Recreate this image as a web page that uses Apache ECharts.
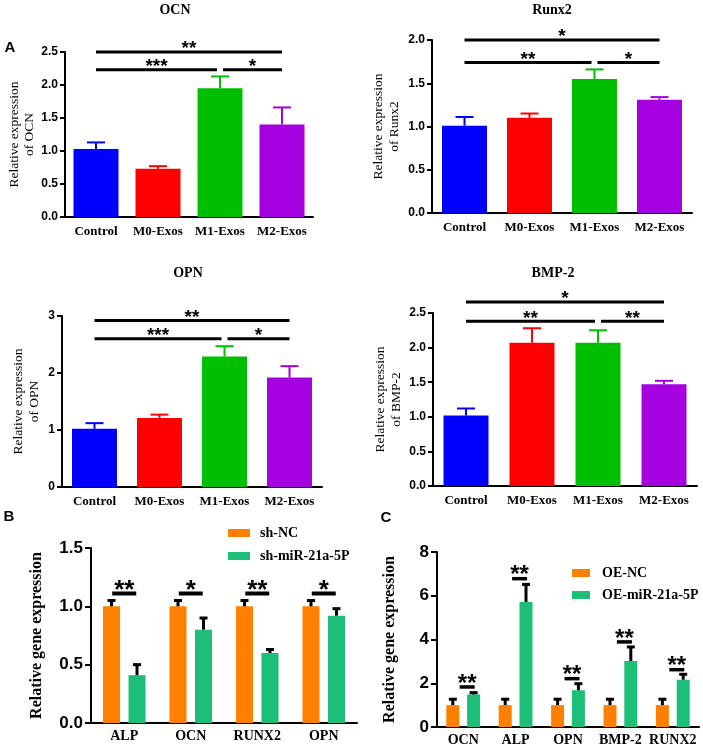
<!DOCTYPE html>
<html>
<head>
<meta charset="utf-8">
<script src="https://cdn.jsdelivr.net/npm/echarts@6/dist/echarts.min.js"></script>
<style>
  html, body { margin: 0; padding: 0; background: #fff; }
  #chart { width: 703px; height: 750px; }
</style>
</head>
<body>
<div id="chart"></div>
<script>
  // panel A: macrophage exosome groups
  var groups = ['Control', 'M0-Exos', 'M1-Exos', 'M2-Exos']
  var groupColors = ['#0000ff', '#ff0000', '#00bf00', '#a400e0']

  var ocnMean = [1.03, 0.73, 1.95, 1.40]
  var ocnErr = [0.10, 0.04, 0.18, 0.26]
  var ocnSig = [[0, 3, 2.5, '**'], [0, 2, 2.23, '***'], [2, 3, 2.23, '*']]

  var runx2Mean = [1.01, 1.10, 1.55, 1.31]
  var runx2Err = [0.10, 0.05, 0.11, 0.03]
  var runx2Sig = [[0, 3, 2.0, '*'], [0, 2, 1.74, '**'], [2, 3, 1.74, '*']]

  var opnMean = [1.02, 1.21, 2.29, 1.92]
  var opnErr = [0.10, 0.06, 0.18, 0.20]
  var opnSig = [[0, 3, 2.92, '**'], [0, 2, 2.60, '***'], [2, 3, 2.60, '*']]

  var bmp2Mean = [1.02, 2.07, 2.07, 1.47]
  var bmp2Err = [0.10, 0.21, 0.18, 0.05]
  var bmp2Sig = [[0, 3, 2.66, '*'], [0, 2, 2.38, '**'], [2, 3, 2.38, '**']]

  // panel B: knockdown
  var shGenes = ['ALP', 'OCN', 'RUNX2', 'OPN']
  var shNC = [1.0, 1.0, 1.0, 1.0]
  var shNCErr = [0.05, 0.05, 0.05, 0.05]
  var shMiR = [0.41, 0.80, 0.60, 0.92]
  var shMiRErr = [0.09, 0.10, 0.03, 0.06]
  var shSig = [[0, 1.11, '**'], [1, 1.11, '*'], [2, 1.11, '**'], [3, 1.11, '*']]

  // panel C: overexpression
  var oeGenes = ['OCN', 'ALP', 'OPN', 'BMP-2', 'RUNX2']
  var oeNC = [1.0, 1.0, 1.0, 1.0, 1.0]
  var oeNCErr = [0.27, 0.27, 0.27, 0.27, 0.27]
  var oeMiR = [1.49, 5.72, 1.68, 3.02, 2.16]
  var oeMiRErr = [0.08, 0.80, 0.30, 0.64, 0.25]
  var oeSig = [[0, 1.83, '**'], [1, 6.78, '**'], [2, 2.21, '**'], [3, 3.89, '**'], [4, 2.62, '**']]

  var serif = 'Liberation Serif'
  var sans = 'Liberation Sans'
  var ORANGE = '#ff8000'
  var TEAL = '#1dbf78'

  function xAx(gi, cats, fontSize, margin) {
    return {
      type: 'category', gridIndex: gi, data: cats,
      axisLine: { lineStyle: { color: '#000', width: 2 } },
      axisTick: { alignWithLabel: true, length: 5, lineStyle: { color: '#000', width: 2 } },
      axisLabel: { interval: 0, margin: margin, color: '#000', fontFamily: serif, fontWeight: 'bold', fontSize: fontSize }
    }
  }

  function yAx(gi, max, step, dec, name, gap, o) {
    return {
      type: 'value', gridIndex: gi, min: 0, max: max, interval: step,
      name: name, nameLocation: 'middle', nameRotate: 90, nameGap: gap,
      nameTextStyle: { color: '#000', fontFamily: serif, fontSize: o.nameSize, fontWeight: o.nameWeight, lineHeight: o.nameSize + 2 },
      axisLine: { show: true, lineStyle: { color: '#000', width: 2 } },
      axisTick: { show: true, length: o.tick, lineStyle: { color: '#000', width: 2 } },
      axisLabel: {
        margin: o.tick + 2, color: '#000', fontFamily: sans, fontWeight: 'bold', fontSize: o.labelSize,
        formatter: function (v) { return v.toFixed(dec) }
      },
      splitLine: { show: false }
    }
  }

  function errSeries(gi, means, errs, color, offset, capW, lw) {
    return {
      type: 'custom', xAxisIndex: gi, yAxisIndex: gi, z: 3, silent: true,
      data: means.map(function (m, i) { return [i, m, m + errs[i]] }),
      renderItem: function (params, api) {
        var base = api.coord([api.value(0), api.value(1)])
        var top = api.coord([api.value(0), api.value(2)])
        var x = base[0] + offset
        var c = Array.isArray(color) ? color[params.dataIndex] : color
        return {
          type: 'group', children: [
            { type: 'line', shape: { x1: x, y1: base[1], x2: x, y2: top[1] }, style: { stroke: c, lineWidth: lw } },
            { type: 'line', shape: { x1: x - capW / 2, y1: top[1], x2: x + capW / 2, y2: top[1] }, style: { stroke: c, lineWidth: lw } }
          ]
        }
      }
    }
  }

  // brackets spanning groups (panel A)
  function bracketSeries(gi, sig) {
    var last = groups.length - 1
    return {
      type: 'custom', xAxisIndex: gi, yAxisIndex: gi, z: 4, silent: true, clip: false,
      data: sig.map(function (s) { return [s[0], s[1], s[2]] }),
      renderItem: function (params, api) {
        var s = sig[params.dataIndex]
        var a = api.coord([s[0], s[2]])
        var b = api.coord([s[1], s[2]])
        var x1 = a[0] + (s[0] > 0 && s[0] < last ? 3 : 0)
        var x2 = b[0] - (s[1] > 0 && s[1] < last ? 3 : 0)
        return {
          type: 'group', children: [
            { type: 'line', shape: { x1: x1, y1: a[1], x2: x2, y2: a[1] }, style: { stroke: '#000', lineWidth: 3 } },
            { type: 'text', x: (x1 + x2) / 2, y: a[1] - 3, style: { text: s[3], fill: '#000', font: 'bold 19px ' + sans, align: 'center', verticalAlign: 'middle' } }
          ]
        }
      }
    }
  }

  // short bars over one gene (panels B, C)
  function starSeries(gi, sig, halfW, shift, fontSize, lw) {
    return {
      type: 'custom', xAxisIndex: gi, yAxisIndex: gi, z: 4, silent: true, clip: false,
      data: sig.map(function (s) { return [s[0], s[1]] }),
      renderItem: function (params, api) {
        var s = sig[params.dataIndex]
        var p = api.coord([s[0], s[1]])
        var cx = p[0] + shift
        return {
          type: 'group', children: [
            { type: 'line', shape: { x1: cx - halfW, y1: p[1], x2: cx + halfW, y2: p[1] }, style: { stroke: '#000', lineWidth: lw } },
            { type: 'text', x: cx, y: p[1] - 3, style: { text: s[2], fill: '#000', font: 'bold ' + fontSize + 'px ' + sans, align: 'center', verticalAlign: 'middle' } }
          ]
        }
      }
    }
  }

  function groupBars(gi, means) {
    return {
      type: 'bar', xAxisIndex: gi, yAxisIndex: gi, barWidth: 45, z: 2,
      data: means.map(function (v, i) { return { value: v, itemStyle: { color: groupColors[i] } } })
    }
  }

  var aY = { nameSize: 13.5, nameWeight: 'normal', labelSize: 12, tick: 5 }
  var bY = { nameSize: 16, nameWeight: 'bold', labelSize: 17, tick: 6 }

  var chart = echarts.init(document.getElementById('chart'))
  chart.setOption({
    animation: false,
    grid: [
      { left: 65, top: 52, width: 248, height: 165, outerBoundsMode: 'none' },
      { left: 432, top: 40, width: 260, height: 173, outerBoundsMode: 'none' },
      { left: 62, top: 316, width: 260, height: 171, outerBoundsMode: 'none' },
      { left: 433, top: 313, width: 264, height: 173, outerBoundsMode: 'none' },
      { left: 91, top: 548, width: 266, height: 175, outerBoundsMode: 'none' },
      { left: 437, top: 552, width: 262, height: 175, outerBoundsMode: 'none' }
    ],
    xAxis: [
      xAx(0, groups, 13, 8), xAx(1, groups, 13, 8), xAx(2, groups, 13, 8), xAx(3, groups, 13, 8),
      xAx(4, shGenes, 14, 6), xAx(5, oeGenes, 14, 6)
    ],
    yAxis: [
      yAx(0, 2.5, 0.5, 1, 'Relative expression\nof OCN', 24, aY),
      yAx(1, 2.0, 0.5, 1, 'Relative expression\nof Runx2', 30, aY),
      yAx(2, 3, 1, 0, 'Relative expression\nof OPN', 20, aY),
      yAx(3, 2.5, 0.5, 1, 'Relative expression\nof BMP-2', 29, aY),
      yAx(4, 1.5, 0.5, 1, 'Relative gene expression', 45, bY),
      yAx(5, 8, 2, 0, 'Relative gene expression', 38, bY)
    ],
    legend: [
      {
        data: ['sh-NC', 'sh-miR-21a-5P'], orient: 'vertical', left: 223, top: 520,
        icon: 'rect', itemWidth: 22, itemHeight: 8, itemGap: 7,
        textStyle: { color: '#000', fontFamily: serif, fontWeight: 'bold', fontSize: 14, lineHeight: 16, padding: [0, 0, 0, 5] }
      },
      {
        data: ['OE-NC', 'OE-miR-21a-5P'], orient: 'vertical', left: 567, top: 560,
        icon: 'rect', itemWidth: 18, itemHeight: 8, itemGap: 6,
        textStyle: { color: '#000', fontFamily: serif, fontWeight: 'bold', fontSize: 14, lineHeight: 16, padding: [0, 0, 0, 7] }
      }
    ],
    graphic: [
      { type: 'text', x: 175, y: 10, style: { text: 'OCN', font: 'bold 14px ' + serif, fill: '#000', align: 'center', verticalAlign: 'middle' } },
      { type: 'text', x: 552, y: 10, style: { text: 'Runx2', font: 'bold 14px ' + serif, fill: '#000', align: 'center', verticalAlign: 'middle' } },
      { type: 'text', x: 188, y: 273, style: { text: 'OPN', font: 'bold 14px ' + serif, fill: '#000', align: 'center', verticalAlign: 'middle' } },
      { type: 'text', x: 553, y: 273, style: { text: 'BMP-2', font: 'bold 14px ' + serif, fill: '#000', align: 'center', verticalAlign: 'middle' } },
      { type: 'text', x: 10, y: 48, style: { text: 'A', font: 'bold 15px ' + sans, fill: '#000', align: 'center', verticalAlign: 'middle' } },
      { type: 'text', x: 9, y: 517, style: { text: 'B', font: 'bold 15px ' + sans, fill: '#000', align: 'center', verticalAlign: 'middle' } },
      { type: 'text', x: 386, y: 518, style: { text: 'C', font: 'bold 15px ' + sans, fill: '#000', align: 'center', verticalAlign: 'middle' } }
    ],
    series: [
      groupBars(0, ocnMean), errSeries(0, ocnMean, ocnErr, groupColors, 0, 18, 2), bracketSeries(0, ocnSig),
      groupBars(1, runx2Mean), errSeries(1, runx2Mean, runx2Err, groupColors, 0, 18, 2), bracketSeries(1, runx2Sig),
      groupBars(2, opnMean), errSeries(2, opnMean, opnErr, groupColors, 0, 18, 2), bracketSeries(2, opnSig),
      groupBars(3, bmp2Mean), errSeries(3, bmp2Mean, bmp2Err, groupColors, 0, 18, 2), bracketSeries(3, bmp2Sig),

      { name: 'sh-NC', type: 'bar', xAxisIndex: 4, yAxisIndex: 4, barWidth: 17, barGap: '50%', itemStyle: { color: ORANGE }, data: shNC },
      { name: 'sh-miR-21a-5P', type: 'bar', xAxisIndex: 4, yAxisIndex: 4, barWidth: 17, barGap: '50%', itemStyle: { color: TEAL }, data: shMiR },
      errSeries(4, shNC, shNCErr, '#000', -12.75, 8, 3),
      errSeries(4, shMiR, shMiRErr, '#000', 12.75, 8, 3),
      starSeries(4, shSig, 12, 0, 26, 4),

      { name: 'OE-NC', type: 'bar', xAxisIndex: 5, yAxisIndex: 5, barWidth: 13, barGap: '60%', itemStyle: { color: ORANGE }, data: oeNC },
      { name: 'OE-miR-21a-5P', type: 'bar', xAxisIndex: 5, yAxisIndex: 5, barWidth: 13, barGap: '60%', itemStyle: { color: TEAL }, data: oeMiR },
      errSeries(5, oeNC, oeNCErr, '#000', -10.4, 8, 3),
      errSeries(5, oeMiR, oeMiRErr, '#000', 10.4, 8, 3),
      starSeries(5, oeSig, 7.5, 4, 24, 3.5)
    ]
  })
</script>
</body>
</html>
